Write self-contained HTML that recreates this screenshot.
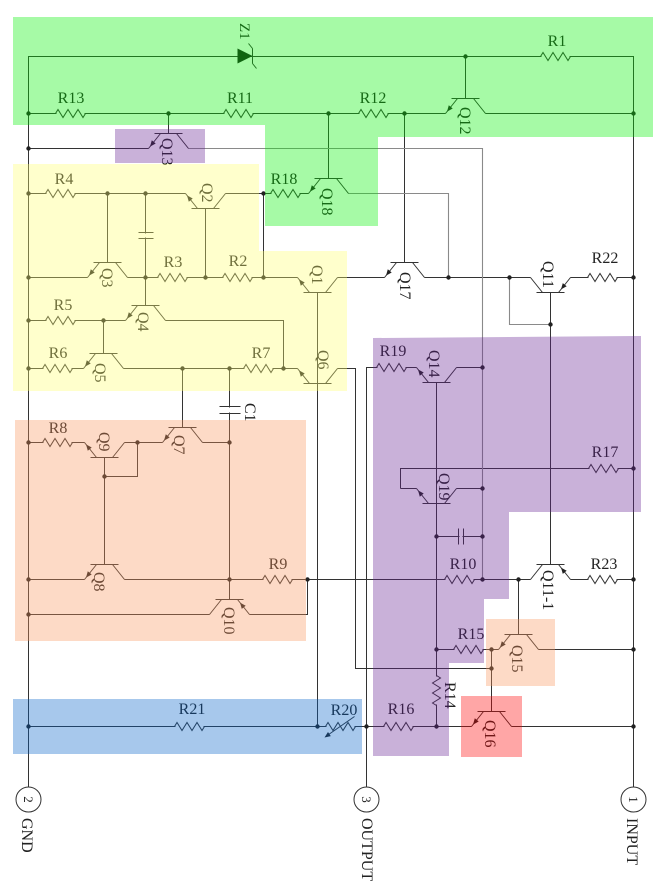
<!DOCTYPE html>
<html><head><meta charset="utf-8"><style>
html,body{margin:0;padding:0;background:#fff;}
svg{display:block;}
text{font-family:"Liberation Serif",serif;fill:#222;}
</style></head><body>
<svg width="668" height="892" viewBox="0 0 668 892" xmlns="http://www.w3.org/2000/svg">
<defs>
<g id="r"><rect x="1" y="-2.5" width="28" height="5" fill="#fff"/><path d="M0,0 L2.5,-4 L7.5,4 L12.5,-4 L17.5,4 L22.5,-4 L27.5,4 L30,0" fill="none" stroke="#333" stroke-width="1"/></g>
<g id="tu"><path d="M-14,-15H14M-8,-15L-20,0M8,-15L20,0" fill="none" stroke="#333" stroke-width="1"/><polygon points="-18.5,-1.9 -12.8,-5 -16.7,-8.2" fill="#222"/></g>
<g id="td"><path d="M-14,15H14M-8,15L-20,0M8,15L20,0" fill="none" stroke="#333" stroke-width="1"/><polygon points="-18.5,1.9 -12.8,5 -16.7,8.2" fill="#222"/></g>
<g id="tuP"><path d="M-14,-15H14M-8,-15L-20,0M8,-15L20,0" fill="none" stroke="#333" stroke-width="1"/><polygon points="10.5,-11.9 16.2,-8.8 12.3,-5.6" fill="#222"/></g>
<g id="tdP"><path d="M-14,15H14M-8,15L-20,0M8,15L20,0" fill="none" stroke="#333" stroke-width="1"/><polygon points="10.5,11.9 16.2,8.8 12.3,5.6" fill="#222"/></g>
</defs>
<g transform="translate(0.5,0.5)">
<path fill="none" stroke="#333" stroke-width="1" d="
M28,787 V56 H633 V787
M465,56 V98
M28,113 H445 M485,113 H633
M168,113 V133
M28,148 H148
M328,113 V178
M404,113 V262
M263,193 H308
M28,193 H185 M225,193 H263 V277
M107,193 V262
M145,193 V305
M205,208 V277
M28,277 H87 M127,277 H297 M337,277 H384 M424,277 H530 M570,277 H633
M550,292 V564
M317,292 V726
M28,320 H125 M165,320 H283 V368
M103,320 V353
M28,368 H83 M123,368 H297 M337,368 H355 V668 H491
M182,368 V427
M229,368 V599
M28,442 H84 M124,442 H162 M202,442 H229
M104,457 V564
M104,476 H137 V442
M28,579 H84 M124,579 H530 M570,579 H633
M307,579 V614 H249
M209,614 H28
M518,579 V634
M366,787 V367 H416 M456,367 H482
M436,382 V726
M400,488 V468 H633
M400,488 H416 M456,488 H482
M436,536 H482
M436,649 H498 M538,649 H633
M491,649 V711
M28,726 H471 M511,726 H633
"/>
<path fill="none" stroke="#8a8a8a" stroke-width="1.1" d="M188,148 H482 V579 M348,193 H448 V277 M509,277 V324 H550"/>

<!-- zener -->
<polygon points="237,48 237,63 252,55.5" fill="#1a1a1a"/>
<path d="M252,48V63 M252,48L248,43 M252,63L256,68" fill="none" stroke="#333"/>

<!-- resistors -->
<use href="#r" x="540" y="56"/>
<use href="#r" x="55" y="113"/>
<use href="#r" x="223" y="113"/>
<use href="#r" x="358" y="113"/>
<use href="#r" x="270" y="193"/>
<use href="#r" x="45" y="193"/>
<use href="#r" x="157" y="277"/>
<use href="#r" x="222" y="277"/>
<use href="#r" x="587" y="277"/>
<use href="#r" x="45" y="320"/>
<use href="#r" x="42" y="368"/>
<use href="#r" x="243" y="368"/>
<use href="#r" x="376" y="367"/>
<use href="#r" x="588" y="468"/>
<use href="#r" x="42" y="442"/>
<use href="#r" x="262" y="579"/>
<use href="#r" x="444" y="579"/>
<use href="#r" x="587" y="579"/>
<use href="#r" x="453" y="649"/>
<use href="#r" x="174" y="726"/>
<use href="#r" x="325" y="726"/>
<use href="#r" x="383" y="726"/>
<g transform="translate(436,675) rotate(90)"><use href="#r"/></g>
<!-- R20 arrow -->
<path d="M326,735.5 L354,716" stroke="#333" fill="none"/>
<polygon points="324,737 330.3,735.6 327.5,731.5" fill="#222"/>

<!-- capacitors -->
<rect x="142" y="233" width="6" height="4" fill="#fff"/>
<path d="M138,232H153M138,238H153" stroke="#333" fill="none"/>
<rect x="226" y="407" width="6" height="5" fill="#fff"/>
<path d="M219,406H240M219,413H240" stroke="#333" fill="none"/>
<rect x="459" y="533" width="3" height="6" fill="#fff"/>
<path d="M458,528V544M463,528V544" stroke="#333" fill="none"/>

<!-- transistors -->
<use href="#tu" x="465" y="113"/>
<use href="#tu" x="168" y="148"/>
<use href="#tu" x="328" y="193"/>
<use href="#td" x="205" y="193"/>
<use href="#tu" x="107" y="277"/>
<use href="#td" x="317" y="277"/>
<use href="#tu" x="404" y="277"/>
<use href="#tdP" x="550" y="277"/>
<use href="#tu" x="145" y="320"/>
<use href="#tu" x="103" y="368"/>
<use href="#td" x="317" y="368"/>
<use href="#td" x="104" y="442"/>
<use href="#tu" x="182" y="442"/>
<use href="#tu" x="104" y="579"/>
<use href="#tuP" x="229" y="614"/>
<use href="#tuP" x="550" y="579"/>
<use href="#td" x="436" y="367"/>
<use href="#td" x="436" y="488"/>
<use href="#tu" x="518" y="649"/>
<use href="#tu" x="491" y="726"/>

<!-- dots -->
<g fill="#222">
<circle cx="465" cy="56" r="2.2"/>
<circle cx="28" cy="113" r="2.2"/><circle cx="168" cy="113" r="2.2"/><circle cx="328" cy="113" r="2.2"/><circle cx="404" cy="113" r="2.2"/><circle cx="633" cy="113" r="2.2"/>
<circle cx="28" cy="148" r="2.2"/>
<circle cx="263" cy="193" r="2.2"/><circle cx="28" cy="193" r="2.2"/><circle cx="107" cy="193" r="2.2"/><circle cx="145" cy="193" r="2.2"/>
<circle cx="28" cy="277" r="2.2"/><circle cx="145" cy="277" r="2.2"/><circle cx="205" cy="277" r="2.2"/><circle cx="263" cy="277" r="2.2"/><circle cx="448" cy="277" r="2.2"/><circle cx="509" cy="277" r="2.2"/><circle cx="633" cy="277" r="2.2"/>
<circle cx="550" cy="324" r="2.2"/>
<circle cx="28" cy="320" r="2.2"/><circle cx="103" cy="320" r="2.2"/>
<circle cx="28" cy="368" r="2.2"/><circle cx="182" cy="368" r="2.2"/><circle cx="229" cy="368" r="2.2"/><circle cx="283" cy="368" r="2.2"/>
<circle cx="482" cy="367" r="2.2"/>
<circle cx="633" cy="468" r="2.2"/>
<circle cx="482" cy="488" r="2.2"/>
<circle cx="436" cy="536" r="2.2"/><circle cx="482" cy="536" r="2.2"/>
<circle cx="28" cy="442" r="2.2"/><circle cx="137" cy="442" r="2.2"/><circle cx="229" cy="442" r="2.2"/><circle cx="104" cy="476" r="2.2"/>
<circle cx="28" cy="579" r="2.2"/><circle cx="229" cy="579" r="2.2"/><circle cx="307" cy="579" r="2.2"/><circle cx="482" cy="579" r="2.2"/><circle cx="518" cy="579" r="2.2"/><circle cx="633" cy="579" r="2.2"/>
<circle cx="28" cy="614" r="2.2"/>
<circle cx="436" cy="649" r="2.2"/><circle cx="491" cy="649" r="2.2"/><circle cx="633" cy="649" r="2.2"/><circle cx="491" cy="668" r="2.2"/>
<circle cx="28" cy="726" r="2.2"/><circle cx="317" cy="726" r="2.2"/><circle cx="366" cy="726" r="2.2"/><circle cx="436" cy="726" r="2.2"/><circle cx="633" cy="726" r="2.2"/>
</g>

<!-- terminals -->
<g fill="#fff" stroke="#333">
<circle cx="28" cy="799" r="12.5"/>
<circle cx="366" cy="799" r="12.5"/>
<circle cx="633" cy="799" r="12.5"/>
</g>
</g>

<!-- horizontal labels -->
<g font-size="16" text-anchor="middle">
<text x="557" y="46">R1</text>
<text x="71" y="103">R13</text>
<text x="240" y="103">R11</text>
<text x="373" y="103">R12</text>
<text x="64" y="184">R4</text>
<text x="284" y="184">R18</text>
<text x="173" y="267">R3</text>
<text x="238" y="266">R2</text>
<text x="605" y="263">R22</text>
<text x="63" y="310">R5</text>
<text x="58" y="358">R6</text>
<text x="261" y="358">R7</text>
<text x="393" y="356">R19</text>
<text x="605" y="457">R17</text>
<text x="58" y="433">R8</text>
<text x="278" y="569">R9</text>
<text x="463" y="569">R10</text>
<text x="604" y="569">R23</text>
<text x="471" y="639">R15</text>
<text x="192" y="714">R21</text>
<text x="344" y="715">R20</text>
<text x="401" y="714">R16</text>
</g>

<!-- rotated labels -->
<g font-size="16">
<text font-size="15" transform="translate(240,23) rotate(90)">Z1</text>
<text transform="translate(162,138) rotate(90)">Q13</text>
<text transform="translate(202,183) rotate(90)">Q2</text>
<text transform="translate(322,188) rotate(90)">Q18</text>
<text transform="translate(460,107) rotate(90)">Q12</text>
<text transform="translate(102,268) rotate(90)">Q3</text>
<text transform="translate(312,265) rotate(90)">Q1</text>
<text transform="translate(138,312) rotate(90)">Q4</text>
<text transform="translate(95,363) rotate(90)">Q5</text>
<text transform="translate(318,350) rotate(90)">Q6</text>
<text transform="translate(400,272) rotate(90)">Q17</text>
<text transform="translate(543,261) rotate(90)">Q11</text>
<text transform="translate(245,403) rotate(90)">C1</text>
<text transform="translate(99,432) rotate(90)">Q9</text>
<text transform="translate(174,435) rotate(90)">Q7</text>
<text transform="translate(94,572) rotate(90)">Q8</text>
<text transform="translate(224,607) rotate(90)">Q10</text>
<text transform="translate(429,350) rotate(90)">Q14</text>
<text transform="translate(439,473) rotate(90)">Q19</text>
<text transform="translate(543,570) rotate(90)">Q11-1</text>
<text transform="translate(512,645) rotate(90)">Q15</text>
<text transform="translate(445,682) rotate(90)">R14</text>
<text transform="translate(485,720) rotate(90)">Q16</text>
<text font-size="13" text-anchor="middle" transform="translate(28.5,799.5) rotate(90)" y="4.5">2</text>
<text font-size="13" text-anchor="middle" transform="translate(366.5,799.5) rotate(90)" y="4.5">3</text>
<text font-size="13" text-anchor="middle" transform="translate(633.5,799.5) rotate(90)" y="4.5">1</text>
<text transform="translate(22,818) rotate(90)">GND</text>
<text transform="translate(362,818) rotate(90)">OUTPUT</text>
<text transform="translate(627,818) rotate(90)">INPUT</text>
</g>

<!-- colored overlays -->
<g>
<polygon points="13,17 653,17 653,137 378,137 378,226 265,226 265,125 13,125" fill="rgba(0,240,0,0.35)"/>
<rect x="115" y="129" width="90" height="34" fill="rgba(101,32,146,0.35)"/>
<polygon points="13,164 259,164 259,251 347,251 347,391 13,391" fill="rgba(255,255,110,0.35)"/>
<rect x="15" y="420" width="291" height="221" fill="rgba(249,149,92,0.35)"/>
<polygon points="373,338 641,336 641,512 509,512 509,599 484,599 484,663 449,663 449,756 373,756" fill="rgba(101,32,146,0.35)"/>
<rect x="486" y="619" width="69" height="67" fill="rgba(249,149,92,0.35)"/>
<rect x="461" y="696" width="61" height="61" fill="rgba(255,0,0,0.35)"/>
<rect x="13" y="699" width="349" height="55" fill="rgba(3,98,200,0.35)"/>
</g>
</svg>
</body></html>
